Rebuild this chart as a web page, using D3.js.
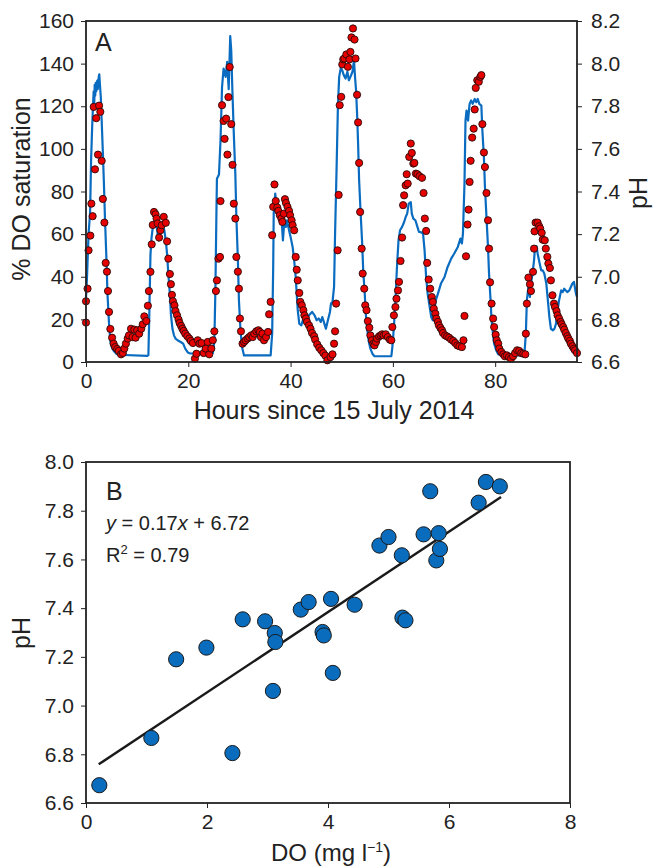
<!DOCTYPE html>
<html>
  <head>
    <script src="https://d3js.org/d3.v7.min.js"></script>
    <style>
body { margin: 0; background: #fff; }
svg { font-family: "Liberation Sans", Arial, Helvetica, sans-serif; }
.tick text { font-size: 21px; fill: #222; }
.tick line { stroke: #222; }
    </style>
  </head>
  <body>
    <script>
// Panel A: pH (red dots, right axis)
var phTime = [0.0,0.0,0.3,0.5,0.85,1.05,1.3,1.5,1.76,2.0,2.35,2.55,2.8,3.07,3.3,3.6,3.85,4.1,4.3,4.5,4.76,5.1,5.4,5.7,6.1,6.4,6.85,7.2,7.5,7.8,8.15,8.4,8.8,9.1,9.45,9.7,10.0,10.4,10.8,11.1,11.4,11.8,12.1,12.3,12.6,12.85,13.05,13.3,13.6,13.8,14.0,14.3,14.55,14.8,15.2,15.6,15.85,16.1,16.4,16.6,16.8,17.0,17.3,17.5,17.8,18.1,18.3,18.6,18.85,19.1,19.4,19.8,20.2,20.5,20.9,21.3,21.6,21.85,22.2,22.6,23.0,23.4,23.8,24.1,24.5,24.8,25.1,25.4,25.6,25.9,26.2,26.3,26.6,26.9,27.1,27.4,27.65,27.85,28.1,28.4,28.65,28.9,29.2,29.4,29.7,29.9,30.1,30.3,30.6,30.9,31.2,31.6,31.9,32.3,32.6,32.9,33.3,33.7,34.0,34.2,34.5,34.8,35.2,35.6,35.8,36.1,36.4,36.6,36.85,37.1,37.4,37.6,37.9,38.2,38.4,38.7,38.9,39.1,39.4,39.7,39.9,40.2,40.4,40.7,41.0,41.2,41.4,41.7,41.9,42.2,42.5,42.7,43.0,43.2,43.6,43.9,44.2,44.6,44.8,45.2,45.6,46.0,46.4,46.8,47.2,47.8,48.2,48.5,48.7,48.9,49.2,49.4,49.6,49.9,50.1,50.3,50.5,50.9,51.2,51.5,51.7,51.9,52.2,52.5,52.7,53.0,53.2,53.4,53.6,53.9,54.1,54.4,54.6,54.85,55.1,55.4,55.6,55.9,56.2,56.4,56.7,56.9,57.3,57.6,57.9,58.2,58.6,59.0,59.4,59.7,59.9,60.2,60.5,60.7,61.0,61.2,61.5,61.8,62.0,62.2,62.5,62.7,62.9,63.2,63.5,63.7,64.0,64.2,64.5,64.8,65.2,65.7,66.0,66.25,66.5,66.7,67.0,67.3,67.6,67.8,68.0,68.3,68.5,68.8,69.0,69.3,69.6,69.8,70.2,70.6,71.0,71.4,71.8,72.2,72.6,73.0,73.5,73.8,74.0,74.3,74.6,74.8,75.0,75.2,75.5,75.8,76.0,76.2,76.5,76.8,77.1,77.3,77.5,77.8,78.0,78.3,78.6,78.8,79.0,79.3,79.6,79.8,80.1,80.3,80.6,80.8,81.2,81.6,81.9,82.3,82.7,83.1,83.5,83.9,84.3,84.7,85.1,85.5,85.9,86.0,86.2,86.5,86.8,87.0,87.4,87.6,87.7,87.9,88.3,88.6,88.8,89.1,89.3,89.7,89.9,90.2,90.4,90.7,90.9,91.2,91.5,91.7,92.0,92.2,92.5,92.8,93.0,93.3,93.5,93.8,94.1,94.3,94.6,94.8,95.1,95.4,95.6,96.0];
var phValue = [6.785,6.885,6.944,7.124,7.193,7.343,7.284,7.797,7.504,7.744,7.573,7.803,7.774,7.544,7.365,7.254,7.065,7.024,6.933,6.835,6.755,6.714,6.686,6.670,6.661,6.652,6.636,6.642,6.663,6.686,6.710,6.725,6.756,6.717,6.752,6.714,6.749,6.733,6.756,6.777,6.814,6.792,6.864,6.933,7.023,7.152,7.243,7.304,7.293,7.273,7.250,7.184,7.218,7.242,7.281,7.253,7.166,7.085,7.013,6.965,6.915,6.885,6.866,6.839,6.819,6.799,6.783,6.769,6.756,6.746,6.733,6.721,6.710,6.699,6.689,6.616,6.639,6.702,6.686,6.689,6.642,6.663,6.694,6.636,6.663,6.702,6.744,6.933,6.983,7.085,7.093,7.355,7.805,7.731,7.647,7.742,7.573,7.843,7.984,7.716,7.525,7.343,7.273,7.093,7.024,6.944,6.804,6.744,6.686,6.694,6.702,6.710,6.717,6.725,6.717,6.733,6.744,6.749,6.741,6.717,6.733,6.702,6.717,6.741,6.824,6.882,7.195,7.328,7.433,7.355,7.325,7.309,7.289,7.273,7.257,7.296,7.364,7.346,7.328,7.309,7.289,7.265,7.242,7.218,7.093,7.033,6.983,6.924,6.882,6.866,6.843,6.819,6.804,6.788,6.772,6.756,6.736,6.721,6.705,6.683,6.667,6.655,6.642,6.630,6.608,6.623,6.636,6.686,6.744,6.874,7.124,7.384,7.805,7.844,7.996,8.020,8.024,8.043,7.985,8.020,8.055,8.123,8.165,8.113,8.024,7.854,7.724,7.534,7.304,7.132,7.015,6.944,6.866,6.843,6.792,6.761,6.725,6.702,6.686,6.678,6.694,6.710,6.720,6.725,6.730,6.725,6.730,6.717,6.705,6.702,6.764,6.819,6.858,6.897,6.936,6.976,7.074,7.184,7.336,7.382,7.429,7.481,7.437,7.562,7.625,7.581,7.531,7.534,7.484,7.481,7.472,7.464,7.393,7.273,7.215,7.065,6.987,6.944,6.905,6.882,6.850,6.827,6.804,6.788,6.772,6.760,6.749,6.736,6.725,6.720,6.714,6.705,6.699,6.689,6.678,6.674,6.670,6.702,6.816,7.096,7.245,7.315,7.445,7.544,7.653,7.695,7.785,7.886,7.922,7.915,7.938,7.946,7.716,7.583,7.515,7.393,7.265,7.132,6.974,6.874,6.804,6.764,6.728,6.702,6.686,6.663,6.647,6.636,6.627,6.631,6.623,6.616,6.627,6.642,6.655,6.652,6.642,6.639,6.636,6.733,6.874,6.996,6.965,6.933,7.023,7.132,7.213,7.254,7.254,7.237,7.226,7.206,7.174,7.171,7.132,7.093,7.062,7.041,6.983,6.913,6.874,6.858,6.839,6.819,6.804,6.788,6.777,6.764,6.752,6.736,6.721,6.710,6.699,6.686,6.674,6.663,6.655,6.642];

// Panel A: % DO saturation (blue line, left axis)
var doTime = [0.0,0.2,0.5,0.8,1.0,1.2,1.4,1.5,1.6,1.7,1.8,1.9,2.0,2.2,2.3,2.5,2.6,2.7,2.9,3.1,3.3,3.5,3.7,4.0,4.2,4.5,4.8,5.1,5.5,5.8,6.2,12.0,12.2,12.4,12.6,12.8,13.0,13.2,13.6,13.9,14.2,14.5,14.7,15.0,15.3,15.6,15.85,16.1,16.4,16.6,16.9,17.2,17.5,17.9,18.5,19.0,19.4,19.9,20.4,24.8,25.1,25.3,25.5,25.6,26.0,26.3,26.6,26.9,27.3,27.6,27.9,28.2,28.4,28.6,28.9,29.2,29.4,29.7,29.9,30.2,30.5,30.9,36.1,36.4,36.6,36.7,37.0,37.2,37.5,37.8,38.0,38.3,38.5,38.8,39.1,39.3,39.7,40.0,40.4,40.7,41.0,41.2,41.4,41.7,42.1,42.5,42.9,43.6,44.2,44.7,45.1,45.5,45.9,46.2,46.5,46.9,47.3,47.7,47.9,48.2,48.5,48.7,49.0,49.25,49.5,49.8,50.1,50.4,50.75,51.1,51.4,51.7,52.1,52.4,52.6,52.8,53.0,53.2,53.4,53.7,54.0,54.2,54.5,54.7,55.0,55.3,55.6,56.0,56.4,59.7,59.9,60.2,60.5,60.8,61.1,61.4,61.8,62.2,62.5,62.8,63.1,63.5,63.7,64.0,64.4,64.8,65.1,65.4,65.9,66.2,66.5,66.8,67.2,67.5,67.8,68.1,68.4,68.8,69.4,70.1,70.7,71.4,72.0,72.7,73.2,73.5,73.7,74.0,74.2,74.4,74.7,75.0,75.3,75.6,76.0,76.3,76.6,76.9,77.3,77.5,77.8,78.0,78.3,78.6,78.8,79.1,79.3,79.6,79.8,80.2,80.6,81.2,85.7,86.0,86.2,86.5,86.8,87.0,87.3,87.6,87.8,88.1,88.3,88.7,89.0,89.3,89.6,90.0,90.3,90.6,90.9,91.3,91.6,91.9,92.2,92.5,92.9,93.2,93.5,93.8,94.1,94.5,94.8,95.1,95.4,95.8,96.0];
var doValue = [30,40,60,70,95,110,122,127,120,130,125,131,127,132,128,134,135,131,124,111,98,84,68,48,32,18,9,6.5,5,4.2,3.4,2.9,3.2,25,50,58,62,64,66.5,62,57,60,63.4,65.7,62,57,50.7,41.3,31.9,22.5,15.6,12.5,11,10.2,9.4,8.6,6.3,4.5,4,4.2,10,34,70,86,88,104,129,137.7,133.8,140.8,128,152.9,146,129,107,88,68,47.7,29,15,7,3.1,3.1,13.3,44.6,69.6,79,74.3,72.8,68,71.2,65,57,66.5,63.4,66.5,61.8,58.7,54,47.7,39.9,32,24.3,18,17.2,20.4,18.8,21.9,23.5,21.9,19.6,20.4,18.8,21.1,18.8,15.6,19.6,23.5,27.4,28.2,35.2,60.2,91.5,119.7,133.8,137.7,136.9,134.6,133,136.2,132.2,133.8,136.2,141.6,133.8,127.5,116.6,102.5,85.3,69.6,55.6,43,32,22.7,14.9,9.4,6.3,3.9,2.7,2.7,7,16.4,29,44.6,57,61.8,63.4,65.7,68,69.6,74.3,75,69.6,67.3,66.5,63.4,61,61,60.2,52.4,39.9,32,25.8,21.1,19.6,24.3,29,32,36.8,39.9,44.6,48.5,50.9,54,57.9,55.6,60.2,83.6,113.3,118,113.3,121.1,122.7,121.1,123.4,121.9,123.4,121.1,120.3,108.6,96,82.2,68,54,41.5,29,19.6,12.5,8.6,5.5,3.6,3.1,3.1,13.3,29,35.2,30.5,36.8,41.5,47.7,54,54.3,50.9,46.2,43,43,41.5,36.8,29,21.1,15.6,14.9,15.6,18,24.3,29,33.6,32.8,34.4,33.6,32.8,33.6,35.2,36.8,37.6,32,30.5];

var hourTicks = [0, 20, 40, 60, 80];
var doTicks = [0, 20, 40, 60, 80, 100, 120, 140, 160];
var phTicksA = [6.6, 6.8, 7.0, 7.2, 7.4, 7.6, 7.8, 8.0, 8.2];

// Panel B: pH vs DO
var scatterDO = [0.22,1.08,1.49,1.99,2.42,2.59,2.96,3.12,3.13,3.09,3.55,3.68,3.91,3.93,4.05,4.08,4.44,4.85,5.00,5.22,5.23,5.28,5.58,5.69,5.83,5.79,5.85,6.49,6.61,6.84];
var scatterPH = [6.673,6.867,7.190,7.238,6.805,7.354,7.346,7.298,7.261,7.060,7.394,7.425,7.302,7.288,7.438,7.134,7.414,7.657,7.692,7.617,7.361,7.350,7.703,7.880,7.708,7.596,7.643,7.833,7.918,7.900];
var fitSlope = 0.165, fitIntercept = 6.724, fitFrom = 0.21, fitTo = 6.86;
var doTicksB = [0, 2, 4, 6, 8];
var phTicksB = [6.6, 6.8, 7.0, 7.2, 7.4, 7.6, 7.8, 8.0];

var svg = d3.select("body").append("svg").attr("width", 654).attr("height", 868);

// ---------- Panel A ----------
var ax = {left: 86, right: 577, top: 21, bottom: 362};
var xA = d3.scaleLinear().domain([0, 96]).range([ax.left, ax.right]);
var yDO = d3.scaleLinear().domain([0, 160]).range([ax.bottom, ax.top]);
var yPH = d3.scaleLinear().domain([6.6, 8.2]).range([ax.bottom, ax.top]);

var gA = svg.append("g");
gA.append("g").attr("transform", "translate(0," + ax.bottom + ")")
	.call(d3.axisBottom(xA).tickValues(hourTicks).tickSize(5).tickSizeOuter(0).tickPadding(6))
	.call(function (g) { g.select(".domain").remove(); });
gA.append("g").attr("transform", "translate(" + ax.left + ",0)")
	.call(d3.axisLeft(yDO).tickValues(doTicks).tickSize(5).tickSizeOuter(0).tickPadding(7))
	.call(function (g) { g.select(".domain").remove(); });
gA.append("g").attr("transform", "translate(" + ax.right + ",0)")
	.call(d3.axisRight(yPH).tickValues(phTicksA).tickFormat(d3.format(".1f")).tickSize(5).tickSizeOuter(0).tickPadding(9))
	.call(function (g) { g.select(".domain").remove(); });

var doLine = d3.line()
	.x(function (d, i) { return xA(doTime[i]); })
	.y(function (d) { return yDO(d); });
gA.append("path").datum(doValue).attr("d", doLine)
	.style("fill", "none").style("stroke", "#0a6cc0").style("stroke-width", 2.2).style("stroke-linejoin", "round");

gA.append("g").selectAll("circle").data(phValue).enter().append("circle")
	.attr("cx", function (d, i) { return xA(phTime[i]); })
	.attr("cy", function (d) { return yPH(d); })
	.attr("r", 3.6)
	.style("fill", "#e60000").style("stroke", "#2a0a0a").style("stroke-width", 0.9);

gA.append("rect").attr("x", ax.left).attr("y", ax.top).attr("width", ax.right - ax.left).attr("height", ax.bottom - ax.top)
	.style("fill", "none").style("stroke", "#222").style("stroke-width", 1.8);

gA.append("text").attr("x", 95).attr("y", 51).text("A").style("font-size", "25px").style("fill", "#222");
gA.append("text").attr("x", 334).attr("y", 419).attr("text-anchor", "middle").text("Hours since 15 July 2014")
	.style("font-size", "25px").style("fill", "#222");
gA.append("text").attr("transform", "translate(30,189) rotate(-90)").attr("text-anchor", "middle").text("% DO saturation")
	.style("font-size", "25px").style("fill", "#222");
gA.append("text").attr("transform", "translate(647,193) rotate(-90)").attr("text-anchor", "middle").text("pH")
	.style("font-size", "25px").style("fill", "#222");

// ---------- Panel B ----------
var bx = {left: 86, right: 570, top: 462, bottom: 803};
var xB = d3.scaleLinear().domain([0, 8]).range([bx.left, bx.right]);
var yB = d3.scaleLinear().domain([6.6, 8.0]).range([bx.bottom, bx.top]);

var gB = svg.append("g");
gB.append("g").attr("transform", "translate(0," + bx.bottom + ")")
	.call(d3.axisBottom(xB).tickValues(doTicksB).tickSize(5).tickSizeOuter(0).tickPadding(6))
	.call(function (g) { g.select(".domain").remove(); });
gB.append("g").attr("transform", "translate(" + bx.left + ",0)")
	.call(d3.axisLeft(yB).tickValues(phTicksB).tickFormat(d3.format(".1f")).tickSize(5).tickSizeOuter(0).tickPadding(7))
	.call(function (g) { g.select(".domain").remove(); });

gB.append("line")
	.attr("x1", xB(fitFrom)).attr("y1", yB(fitIntercept + fitSlope * fitFrom))
	.attr("x2", xB(fitTo)).attr("y2", yB(fitIntercept + fitSlope * fitTo))
	.style("stroke", "#1a1a1a").style("stroke-width", 2.4);

gB.append("g").selectAll("circle").data(scatterPH).enter().append("circle")
	.attr("cx", function (d, i) { return xB(scatterDO[i]); })
	.attr("cy", function (d) { return yB(d); })
	.attr("r", 7.6)
	.style("fill", "#0a6cbd").style("stroke", "#1a1a1a").style("stroke-width", 1);

gB.append("rect").attr("x", bx.left).attr("y", bx.top).attr("width", bx.right - bx.left).attr("height", bx.bottom - bx.top)
	.style("fill", "none").style("stroke", "#222").style("stroke-width", 1.8);

gB.append("text").attr("x", 106).attr("y", 500).text("B").style("font-size", "25px").style("fill", "#222");
var eq = gB.append("text").attr("x", 106).attr("y", 530).style("font-size", "20px").style("fill", "#222");
eq.append("tspan").style("font-style", "italic").text("y");
eq.append("tspan").text(" = 0.17");
eq.append("tspan").style("font-style", "italic").text("x");
eq.append("tspan").text(" + 6.72");
var r2 = gB.append("text").attr("x", 106).attr("y", 562).style("font-size", "20px").style("fill", "#222");
r2.append("tspan").text("R");
r2.append("tspan").attr("dy", -8).style("font-size", "13px").text("2");
r2.append("tspan").attr("dy", 8).text(" = 0.79");

var xt = gB.append("text").attr("x", 331).attr("y", 861).attr("text-anchor", "middle").style("font-size", "24px").style("fill", "#222");
xt.append("tspan").text("DO (mg l");
xt.append("tspan").attr("dy", -9).style("font-size", "14px").text("\u22121");
xt.append("tspan").attr("dy", 9).text(")");
gB.append("text").attr("transform", "translate(30,633) rotate(-90)").attr("text-anchor", "middle").text("pH")
	.style("font-size", "25px").style("fill", "#222");
    </script>
  </body>
</html>
